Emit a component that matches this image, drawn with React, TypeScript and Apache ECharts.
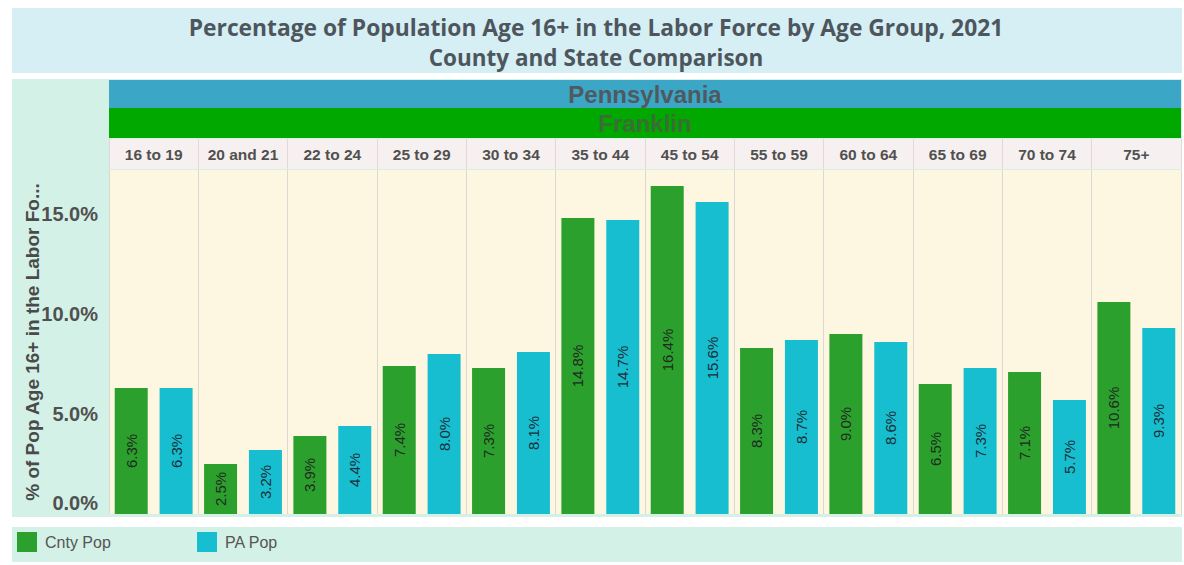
import React, { useEffect, useRef } from "react";
import * as echarts from "echarts";

const categories = ["16 to 19", "20 and 21", "22 to 24", "25 to 29", "30 to 34", "35 to 44", "45 to 54", "55 to 59", "60 to 64", "65 to 69", "70 to 74", "75+"];
const cntyPop = [6.3, 2.5, 3.9, 7.4, 7.3, 14.8, 16.4, 8.3, 9.0, 6.5, 7.1, 10.6];
const paPop = [6.3, 3.2, 4.4, 8.0, 8.1, 14.7, 15.6, 8.7, 8.6, 7.3, 5.7, 9.3];
const seriesNames = ["Cnty Pop", "PA Pop"];
const titleLines = ["Percentage of Population Age 16+ in the Labor Force by Age Group, 2021", "County and State Comparison"];
const stateName = "Pennsylvania";
const countyName = "Franklin";
const yTitle = "% of Pop Age 16+ in the Labor Fo...";

const FONT = "'Liberation Sans', Arial, sans-serif";

export default function App() {
  const ref = useRef<HTMLDivElement>(null);
  useEffect(() => {
    document.body.style.margin = "0";
    const chart = echarts.init(ref.current!, null, { renderer: "svg" });
    const barLabel = {
      show: true,
      position: "inside",
      rotate: 90,
      fontSize: 15,
      fontFamily: FONT,
      color: "#1f2a22",
      formatter: (p: any) => Number(p.value).toFixed(1) + "%",
    };
    const legendBase = {
      top: 532,
      padding: 0,
      icon: "rect",
      itemWidth: 20,
      itemHeight: 20,
      textStyle: { fontSize: 16, color: "#555555", fontFamily: FONT, padding: [0, 0, 0, 3] },
    };
    chart.setOption({
      animation: false,
      backgroundColor: "#ffffff",
      graphic: [
        { type: "rect", shape: { x: 12, y: 8, width: 1170, height: 65 }, style: { fill: "#d5eff5" }, z: -10 },
        { type: "rect", shape: { x: 12, y: 79, width: 1170, height: 438 }, style: { fill: "#d3f1e6" }, z: -10 },
        { type: "rect", shape: { x: 12, y: 527, width: 1170, height: 35 }, style: { fill: "#d3f1e6" }, z: -10 },
        { type: "rect", shape: { x: 109, y: 80, width: 1072, height: 28 }, style: { fill: "#3ca6c7" }, z: -5 },
        { type: "rect", shape: { x: 109, y: 108, width: 1072, height: 30 }, style: { fill: "#00a800" }, z: -5 },
        {
          type: "text", x: 596, y: 27, z: 5,
          style: { text: titleLines[0], font: "bold 22.8px 'Open Sans', sans-serif", fill: "#4d565c", textAlign: "center", textVerticalAlign: "middle" },
        },
        {
          type: "text", x: 596, y: 57, z: 5,
          style: { text: titleLines[1], font: "bold 22.5px 'Open Sans', sans-serif", fill: "#4d565c", textAlign: "center", textVerticalAlign: "middle" },
        },
        {
          type: "text", x: 645, y: 94, z: 5,
          style: { text: stateName, font: "bold 24px " + FONT, fill: "#4f5a60", textAlign: "center", textVerticalAlign: "middle" },
        },
        {
          type: "text", x: 645, y: 123, z: 5,
          style: { text: countyName, font: "bold 24px " + FONT, fill: "#3a6e34", textAlign: "center", textVerticalAlign: "middle" },
        },
      ],
      legend: [
        { ...legendBase, left: 17, data: [seriesNames[0]] },
        { ...legendBase, left: 197, data: [seriesNames[1]] },
      ],
      grid: [
        { left: 109, top: 170, width: 1072, height: 344, show: true, backgroundColor: "#fdf6e0", borderWidth: 0 },
        { left: 109, top: 139, width: 1072, height: 30, show: true, backgroundColor: "#f7f0f0", borderWidth: 0 },
      ],
      xAxis: [
        {
          type: "category", gridIndex: 0, data: categories,
          axisLabel: { show: false }, axisTick: { show: false }, axisLine: { show: false },
          splitLine: { show: true, interval: 0, lineStyle: { color: "#dcd8d0", width: 1 } },
        },
        {
          type: "category", gridIndex: 1, data: categories, position: "top",
          axisLabel: { show: true, inside: true, interval: 0, margin: 7, fontSize: 15.5, fontWeight: "bold", color: "#505050", fontFamily: FONT },
          axisTick: { show: false }, axisLine: { show: false },
          splitLine: { show: true, interval: 0, lineStyle: { color: "#e2d8d8", width: 1 } },
        },
      ],
      yAxis: [
        {
          type: "value", gridIndex: 0, min: 0, max: 17.2, interval: 5,
          name: yTitle, nameLocation: "middle", nameGap: 67, nameRotate: 90, nameMoveOverlap: false,
          nameTextStyle: { fontSize: 19, fontWeight: "bold", color: "#4a4a4a", fontFamily: FONT },
          axisLine: { show: false }, axisTick: { show: false }, splitLine: { show: false },
          axisLabel: {
            show: true, margin: 11, showMaxLabel: false,
            fontSize: 20, fontWeight: "bold", color: "#505050", fontFamily: FONT,
            formatter: (v: number) => (v === 0 ? "{z|0.0%}" : v.toFixed(1) + "%"),
            rich: { z: { fontSize: 20, fontWeight: "bold", color: "#505050", fontFamily: FONT, padding: [0, 0, 22, 0] } },
          },
        },
        { type: "value", gridIndex: 1, show: false },
      ],
      series: [
        {
          name: seriesNames[0], type: "bar", xAxisIndex: 0, yAxisIndex: 0, data: cntyPop,
          barWidth: 33, barGap: "36%", itemStyle: { color: "#2ca02c" }, label: barLabel,
        },
        {
          name: seriesNames[1], type: "bar", xAxisIndex: 0, yAxisIndex: 0, data: paPop,
          barWidth: 33, barGap: "36%", itemStyle: { color: "#17becf" }, label: { ...barLabel, color: "#1c2f3a" },
        },
      ],
    });
    return () => chart.dispose();
  }, []);
  return <div ref={ref} style={{ width: 1184, height: 565 }} />;
}
